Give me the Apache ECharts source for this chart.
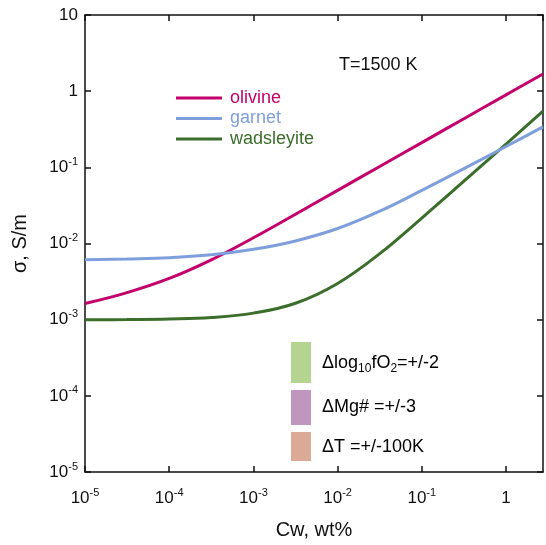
<!DOCTYPE html>
<html><head><meta charset="utf-8">
<script src="https://cdn.jsdelivr.net/npm/echarts@6/dist/echarts.min.js"></script>
<style>html,body{margin:0;padding:0;background:#fff}#c{width:546px;height:545px}</style>
</head><body><div id="c"></div>
<script>
// Water content Cw (wt%)
const cw = [1e-5, 3.162e-5, 1e-4, 3.162e-4, 1e-3, 3.162e-3, 1e-2, 3.162e-2, 1e-1, 3.162e-1, 1, 2.75];
// Conductivity sigma (S/m)
const olivine    = [1.629e-3, 2.265e-3, 3.475e-3, 6.10e-3, 1.189e-2, 2.426e-2, 4.99e-2, 0.1027, 0.211, 0.435, 0.895, 1.68];
const garnet     = [6.14e-3, 6.27e-3, 6.50e-3, 7.11e-3, 8.38e-3, 1.081e-2, 1.572e-2, 2.654e-2, 4.98e-2, 9.62e-2, 0.1875, 0.340];
const wadsleyite = [9.97e-4, 1.003e-3, 1.018e-3, 1.065e-3, 1.218e-3, 1.643e-3, 2.991e-3, 7.35e-3, 2.160e-2, 6.57e-2, 0.2021, 0.546];
const seriesNames = ['olivine', 'garnet', 'wadsleyite'];
const seriesColors = ['#c4006c', '#7f9fdc', '#3b6e2a'];
const annotation = 'T=1500 K';
const xTitle = 'Cw, wt%';
const yTitle = 'σ, S/m';

const FONT = 'Liberation Sans, Arial, sans-serif';
const chart = echarts.init(document.getElementById('c'), null, {renderer: 'canvas'});

function powLabel(v) {
  const e = Math.round(Math.log10(v));
  if (Math.abs(Math.log10(v) - e) > 1e-6) return '';
  if (e === 0) return '{b|1}';
  if (e === 1) return '{b|10}';
  return '{b|10}{s|' + e + '}';
}
const richLab = {
  b: {fontSize: 17, fontFamily: FONT, color: '#111', lineHeight: 22, verticalAlign: 'middle'},
  s: {fontSize: 11, fontFamily: FONT, color: '#111', lineHeight: 11, verticalAlign: 'top'}
};
const axisLineStyle = {color: '#111', width: 1.5};

function xAx(pos, main) {
  return {
    type: 'log', logBase: 10, min: 1e-5, max: 2.75, position: pos,
    axisLine: {show: true, onZero: false, lineStyle: axisLineStyle},
    axisTick: {show: true, inside: true, length: 6, lineStyle: axisLineStyle},
    axisLabel: {show: main, formatter: powLabel, rich: richLab, margin: 15, showMaxLabel: false},
    splitLine: {show: false},
    name: main ? xTitle : '', nameLocation: 'middle', nameGap: 48,
    nameTextStyle: {fontSize: 20, fontFamily: FONT, color: '#111'}
  };
}
function yAx(pos, main) {
  return {
    type: 'log', logBase: 10, min: 1e-5, max: 10, position: pos,
    axisLine: {show: true, onZero: false, lineStyle: axisLineStyle},
    axisTick: {show: true, inside: true, length: 6, lineStyle: axisLineStyle},
    axisLabel: {show: main, formatter: powLabel, rich: richLab, margin: 7},
    splitLine: {show: false},
    name: main ? yTitle : '', nameLocation: 'middle', nameGap: 55,
    nameTextStyle: {fontSize: 20, fontFamily: FONT, color: '#111'}
  };
}

const series = [olivine, garnet, wadsleyite].map((arr, i) => ({
  name: seriesNames[i], type: 'line', smooth: 0.4, symbol: 'none', showSymbol: false,
  xAxisIndex: 0, yAxisIndex: 0,
  lineStyle: {color: seriesColors[i], width: 3},
  itemStyle: {color: seriesColors[i]},
  data: cw.map((x, j) => [x, arr[j]]),
  z: i === 1 ? 3 : 2
}));

const subRich = {
  a: {fontSize: 18, fontFamily: FONT, color: '#111', lineHeight: 24, verticalAlign: 'middle'},
  d: {fontSize: 12, fontFamily: FONT, color: '#111', lineHeight: 12, verticalAlign: 'bottom'}
};
const boxes = [
  {color: '#b4d48f', y: 342, h: 41, text: '{a|Δlog}{d|10}{a|fO}{d|2}{a|=+/-2}', ty: 363},
  {color: '#c196be', y: 390, h: 35, text: '{a|ΔMg# =+/-3}', ty: 407},
  {color: '#daaa96', y: 432, h: 29, text: '{a|ΔT =+/-100K}', ty: 447}
];
const graphics = [];
boxes.forEach(b => {
  graphics.push({type: 'rect', shape: {x: 291, y: b.y, width: 20, height: b.h}, style: {fill: b.color}});
  graphics.push({type: 'text', x: 322, y: b.ty, style: {text: b.text, rich: subRich, verticalAlign: 'middle', align: 'left'}});
});
graphics.push({type: 'text', x: 339, y: 65, style: {text: annotation, font: '18px ' + FONT, fill: '#111', verticalAlign: 'middle'}});

chart.setOption({
  animation: false,
  backgroundColor: '#fff',
  grid: {left: 85, right: 3, top: 15, bottom: 69, containLabel: false},
  xAxis: [xAx('bottom', true), xAx('top', false)],
  yAxis: [yAx('left', true), yAx('right', false)],
  legend: {
    orient: 'vertical', left: 176, top: 89, padding: 0, icon: 'rect',
    itemWidth: 46, itemHeight: 3, itemGap: 2.5,
    textStyle: {fontSize: 18, lineHeight: 18, fontFamily: FONT, padding: [0, 0, 0, 3]},
    data: seriesNames.map((n, i) => ({name: n, textStyle: {color: seriesColors[i]}}))
  },
  series: series,
  graphic: graphics
});
</script>
</body></html>
